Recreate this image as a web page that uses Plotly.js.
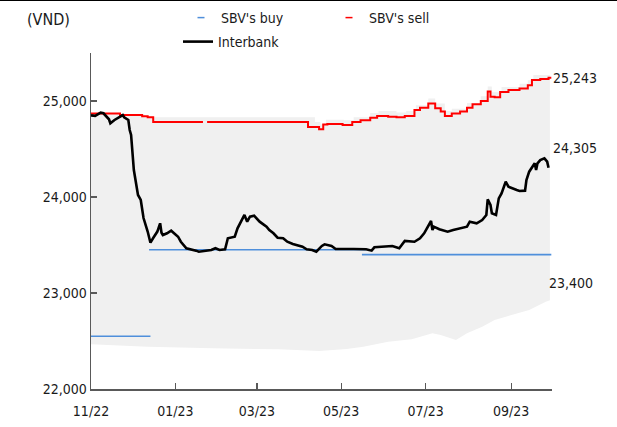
<!DOCTYPE html>
<html>
<head>
<meta charset="utf-8">
<script src="https://cdn.plot.ly/plotly-3.0.1.min.js"></script>
<style>html,body{margin:0;padding:0;background:#fff;}#chart{width:617px;height:427px;}</style>
</head>
<body>
<div id="chart"></div>
<script>
// ---- Data ----
var tickDates = ['2022-11-01','2023-01-01','2023-03-01','2023-05-01','2023-07-01','2023-09-01'];
var tickLabels = ['11/22','01/23','03/23','05/23','07/23','09/23'];
var yTicks = [22000, 23000, 24000, 25000];

var bandUpperDates = ['2022-11-01','2022-11-22','2022-12-10','2022-12-16','2023-04-06','2023-04-12','2023-04-16','2023-04-20','2023-05-03','2023-05-10','2023-05-22','2023-05-28','2023-06-10','2023-06-17','2023-06-24','2023-07-03','2023-07-08','2023-07-15','2023-07-20','2023-07-31','2023-08-10','2023-08-15','2023-08-18','2023-08-25','2023-09-07','2023-09-13','2023-09-17','2023-09-29'];
var bandUpperValues = [24875,24860,24845,24830,24830,24780,24755,24805,24800,24830,24875,24895,24880,24895,24955,25025,24975,24895,24920,24980,25050,25150,25090,25145,25180,25215,25270,25293];

var bandLowerDates = ['2022-11-01','2022-12-12','2023-01-28','2023-03-17','2023-04-15','2023-05-05','2023-05-17','2023-06-04','2023-06-21','2023-07-06','2023-07-12','2023-07-23','2023-07-31','2023-08-11','2023-08-20','2023-09-02','2023-09-14','2023-09-26','2023-09-29'];
var bandLowerValues = [22466,22441,22424,22414,22396,22417,22441,22493,22518,22580,22563,22510,22580,22649,22719,22771,22823,22909,22925];

var buyDates = ['2022-11-01','2022-12-14',null,'2022-12-13','2023-05-19',null,'2023-05-16','2023-09-30'];
var buyValues = [22550,22550,null,23450,23450,null,23400,23400];

var sellDates = ['2022-11-01','2022-11-22','2022-12-08','2022-12-12','2022-12-16','2023-01-21','2023-01-22','2023-01-24','2023-04-07','2023-04-15','2023-04-18','2023-04-21','2023-05-02','2023-05-09','2023-05-15','2023-05-22','2023-05-27','2023-06-04','2023-06-10','2023-06-16','2023-06-23','2023-06-27','2023-07-03','2023-07-08','2023-07-12','2023-07-15','2023-07-20','2023-07-26','2023-07-31','2023-08-04','2023-08-10','2023-08-15','2023-08-17','2023-08-20','2023-08-24','2023-08-30','2023-09-07','2023-09-13','2023-09-16','2023-09-22','2023-09-28','2023-09-30'];
var sellValues = [24870,24855,24840,24830,24780,24780,null,24780,24730,24705,24755,24760,24750,24780,24800,24825,24845,24835,24830,24845,24905,24930,24975,24925,24890,24845,24870,24890,24930,24965,25000,25100,25045,25040,25095,25115,25130,25165,25220,25230,25243,25243];

var ibDates = ['2022-11-01','2022-11-04','2022-11-08','2022-11-10','2022-11-14','2022-11-15','2022-11-18','2022-11-22','2022-11-24','2022-11-25','2022-11-28','2022-11-29','2022-11-30','2022-12-02','2022-12-05','2022-12-07','2022-12-09','2022-12-12','2022-12-14','2022-12-16','2022-12-19','2022-12-21','2022-12-22','2022-12-23','2022-12-26','2022-12-29','2023-01-03','2023-01-05','2023-01-09','2023-01-16','2023-01-18','2023-01-27','2023-01-30','2023-02-02','2023-02-06','2023-02-08','2023-02-13','2023-02-15','2023-02-17','2023-02-20','2023-02-22','2023-02-24','2023-02-27','2023-03-03','2023-03-08','2023-03-10','2023-03-13','2023-03-16','2023-03-20','2023-03-23','2023-03-27','2023-04-03','2023-04-06','2023-04-10','2023-04-13','2023-04-17','2023-04-19','2023-04-21','2023-04-24','2023-04-27','2023-05-03','2023-05-10','2023-05-19','2023-05-23','2023-05-25','2023-05-31','2023-06-07','2023-06-12','2023-06-16','2023-06-23','2023-06-27','2023-06-30','2023-07-03','2023-07-05','2023-07-06','2023-07-07','2023-07-11','2023-07-17','2023-07-21','2023-07-26','2023-07-31','2023-08-02','2023-08-07','2023-08-11','2023-08-14','2023-08-15','2023-08-17','2023-08-18','2023-08-21','2023-08-23','2023-08-25','2023-08-28','2023-08-30','2023-09-05','2023-09-07','2023-09-11','2023-09-12','2023-09-14','2023-09-18','2023-09-19','2023-09-20','2023-09-22','2023-09-25','2023-09-27','2023-09-28'];
var ibValues = [24850,24845,24878,24872,24810,24768,24802,24836,24854,24830,24802,24698,24646,24281,24021,23969,23781,23640,23524,23573,23640,23726,23628,23604,23622,23649,23586,23534,23466,23441,23430,23448,23466,23448,23455,23570,23586,23674,23726,23813,23743,23795,23805,23743,23691,23656,23622,23576,23570,23534,23510,23482,23455,23448,23430,23490,23507,23500,23490,23458,23455,23458,23455,23441,23476,23482,23490,23466,23542,23534,23570,23622,23708,23750,23656,23691,23664,23639,23656,23674,23691,23743,23726,23760,23813,23976,23917,23830,23813,23986,24038,24159,24107,24073,24063,24066,24177,24264,24351,24281,24351,24385,24403,24368,24305];

var seriesNames = ["SBV's buy", "SBV's sell", 'Interbank'];
var unitLabel = '(VND)';

// ---- Styling ----
var FONT = 'Tahoma, "DejaVu Sans Condensed", "DejaVu Sans", sans-serif';
var TXT = '#1a1a1a';
var AX = '#595959';
var BLUE = '#4f8fdb';
var RED = '#ff0000';

function fmt(v){ return v.toLocaleString('en-US'); }

var traces = [
  {x: bandLowerDates, y: bandLowerValues, type:'scatter', mode:'lines', line:{width:0, color:'rgba(0,0,0,0)'}, showlegend:false, hoverinfo:'skip'},
  {x: bandUpperDates, y: bandUpperValues, type:'scatter', mode:'lines', line:{width:0, color:'rgba(0,0,0,0)', shape:'hv'}, fill:'tonexty', fillcolor:'#f0f0f0', showlegend:false, hoverinfo:'skip'},
  {x: buyDates, y: buyValues, type:'scatter', mode:'lines', line:{color:BLUE, width:1.6}, connectgaps:false, showlegend:false},
  {x: sellDates, y: sellValues, type:'scatter', mode:'lines', line:{color:RED, width:2, shape:'hv'}, connectgaps:false, showlegend:false},
  {x: ibDates, y: ibValues, type:'scatter', mode:'lines', name: seriesNames[2], line:{color:'#000000', width:2.6}, legend:'legend3'},
  // legend keys (no data)
  {x:[null], y:[null], type:'scatter', mode:'markers', name: seriesNames[0], marker:{symbol:'line-ew-open', size:5, color:BLUE, line:{color:BLUE, width:1.5}}, legend:'legend'},
  {x:[null], y:[null], type:'scatter', mode:'markers', name: seriesNames[1], marker:{symbol:'line-ew-open', size:5, color:RED, line:{color:RED, width:1.5}}, legend:'legend2'}
];

function px2x(p){ return (p - 91) / 461; }
function py2y(p){ return (389 - p) / 336; }

var legendBase = {orientation:'h', bgcolor:'rgba(0,0,0,0)', font:{family:FONT, size:14, color:TXT}, xanchor:'left', yanchor:'middle', itemwidth:30, tracegroupgap:0};

var layout = {
  width: 617, height: 427,
  margin: {l:91, r:65, t:53, b:38, autoexpand:false},
  paper_bgcolor:'#ffffff', plot_bgcolor:'#ffffff',
  font: {family: FONT, size: 14, color: TXT},
  showlegend: true,
  legend: Object.assign({}, legendBase, {x: px2x(181), y: py2y(18)}),
  legend2: Object.assign({}, legendBase, {x: px2x(329), y: py2y(18)}),
  legend3: Object.assign({}, legendBase, {x: px2x(178), y: py2y(42)}),
  xaxis: {
    type:'date', range:['2022-11-01','2023-09-30 12:00'],
    tickmode:'array', tickvals: tickDates, ticktext: tickLabels,
    ticks:'inside', ticklen:6, tickwidth:1.3, tickcolor:AX,
    showline:true, linecolor:AX, linewidth:1.5,
    showgrid:false, zeroline:false, ticklabelstandoff:9,
    tickfont:{family:FONT, size:14, color:TXT}
  },
  yaxis: {
    range:[22000, 25500],
    tickmode:'array', tickvals: yTicks, tickformat:',',
    ticks:'inside', ticklen:6, tickwidth:1.3, tickcolor:AX,
    showline:true, linecolor:AX, linewidth:1.5,
    showgrid:false, zeroline:false,
    tickfont:{family:FONT, size:14, color:TXT}
  },
  annotations: [
    {xref:'paper', yref:'paper', x:px2x(48), y:py2y(20), text: unitLabel, showarrow:false, xanchor:'center', yanchor:'middle', font:{family:FONT, size:16, color:TXT}},
    {xref:'paper', yref:'paper', x:px2x(551), y:py2y(78), text: fmt(sellValues[sellValues.length-1]), showarrow:false, xanchor:'left', yanchor:'middle', font:{family:FONT, size:14, color:TXT}},
    {xref:'paper', yref:'paper', x:px2x(551), y:py2y(148), text: fmt(ibValues[ibValues.length-1]), showarrow:false, xanchor:'left', yanchor:'middle', font:{family:FONT, size:14, color:TXT}},
    {xref:'paper', yref:'paper', x:px2x(547), y:py2y(283), text: fmt(buyValues[buyValues.length-1]), showarrow:false, xanchor:'left', yanchor:'middle', font:{family:FONT, size:14, color:TXT}}
  ],
  shapes: [
    {type:'line', xref:'paper', yref:'paper', x0:px2x(0), x1:px2x(617), y0:py2y(0.5), y1:py2y(0.5), line:{color:'#000', width:1}}
  ]
};

Plotly.newPlot('chart', traces, layout, {displayModeBar:false, staticPlot:true});
</script>
</body>
</html>
